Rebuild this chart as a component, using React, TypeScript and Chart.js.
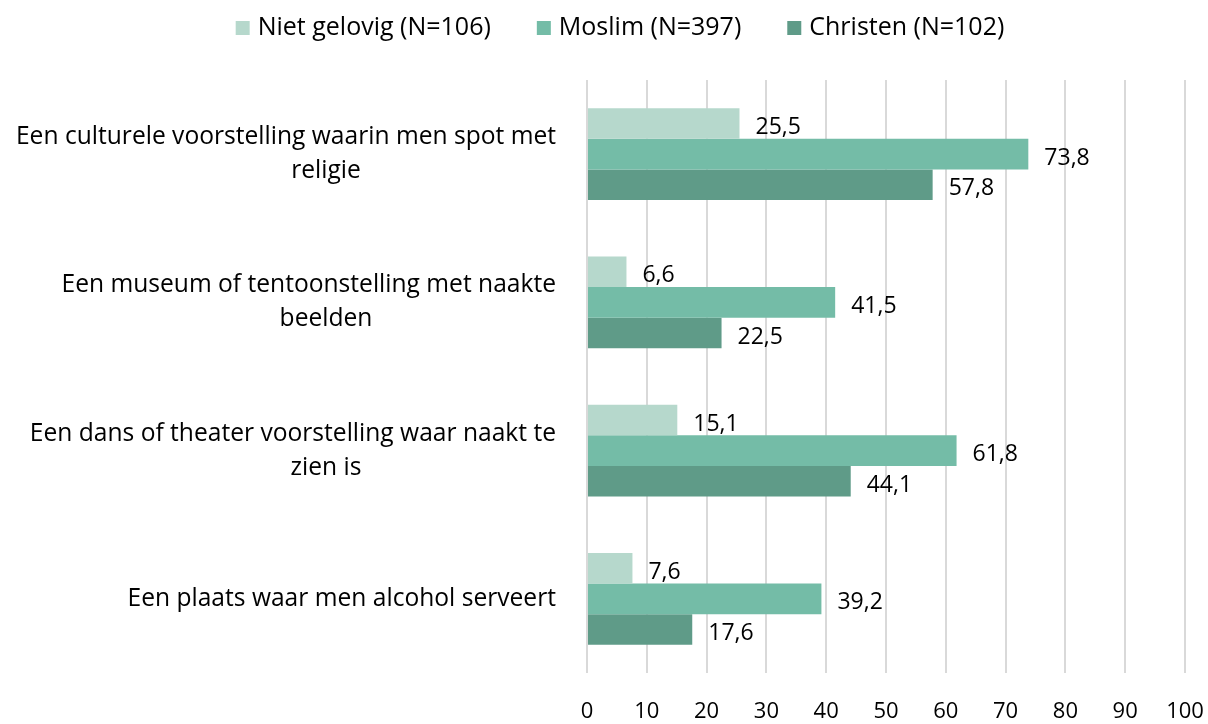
import React, { useEffect, useRef } from "react";
import { Chart, registerables } from "chart.js";

Chart.register(...registerables);

const categories: string[][] = [
  ["Een culturele voorstelling waarin men spot met", "religie"],
  ["Een museum of tentoonstelling met naakte", "beelden"],
  ["Een dans of theater voorstelling waar naakt te", "zien is"],
  ["Een plaats waar men alcohol serveert"],
];
const seriesLabels = ["Niet gelovig (N=106)", "Moslim (N=397)", "Christen (N=102)"];
const nietGelovig = [25.5, 6.6, 15.1, 7.6];
const moslim = [73.8, 41.5, 61.8, 39.2];
const christen = [57.8, 22.5, 44.1, 17.6];
const seriesColors = ["#b6d8cc", "#74bca7", "#5f9b88"];
const xMin = 0;
const xMax = 100;
const xStep = 10;

const FONT = "'Open Sans', 'Noto Sans', sans-serif";
const FS_CAT = 24.6;
const FS_LEGEND = 25;
const FS_VALUE = 23;
const FS_TICK = 22;

const fmt = (v: number) => v.toFixed(1).replace(".", ",");

const customLegend = {
  id: "customLegend",
  afterDraw(chart: any) {
    const ctx = chart.ctx;
    ctx.save();
    ctx.font = `${FS_LEGEND}px ${FONT}`;
    ctx.textBaseline = "middle";
    ctx.textAlign = "left";
    const box = 14;
    const gapBoxText = 8;
    const gapItems = 46;
    const items = chart.data.datasets.map((ds: any) => ({
      label: ds.label,
      color: ds.backgroundColor,
      w: ctx.measureText(ds.label).width,
    }));
    const total = items.reduce((s: number, it: any) => s + box + gapBoxText + it.w, 0) + gapItems * (items.length - 1);
    let x = 620 - total / 2;
    const y = 28;
    items.forEach((it: any) => {
      ctx.fillStyle = it.color;
      ctx.fillRect(x, y - box / 2, box, box);
      x += box + gapBoxText;
      ctx.fillStyle = "#000";
      ctx.fillText(it.label, x, y);
      x += it.w + gapItems;
    });
    ctx.restore();
  },
};

const categoryLabels = {
  id: "categoryLabels",
  afterDraw(chart: any) {
    const ctx = chart.ctx;
    const yScale = chart.scales.y;
    const left = chart.chartArea.left;
    ctx.save();
    ctx.font = `${FS_CAT}px ${FONT}`;
    ctx.fillStyle = "#000";
    ctx.textBaseline = "middle";
    const lh = 34;
    categories.forEach((lines, i) => {
      const cy = yScale.getPixelForValue(i);
      lines.forEach((line, j) => {
        const y = cy + (j - (lines.length - 1) / 2) * lh;
        if (j === 0) {
          ctx.textAlign = "right";
          ctx.fillText(line, left - 31, y);
        } else {
          ctx.textAlign = "center";
          ctx.fillText(line, left - 261, y);
        }
      });
    });
    ctx.restore();
  },
};

const valueLabels = {
  id: "valueLabels",
  afterDatasetsDraw(chart: any) {
    const ctx = chart.ctx;
    ctx.save();
    ctx.font = `${FS_VALUE}px ${FONT}`;
    ctx.fillStyle = "#000";
    ctx.textAlign = "left";
    ctx.textBaseline = "middle";
    chart.data.datasets.forEach((ds: any, di: number) => {
      const meta = chart.getDatasetMeta(di);
      meta.data.forEach((bar: any, i: number) => {
        ctx.fillText(fmt(ds.data[i]), bar.x + 16, bar.y + 4);
      });
    });
    ctx.restore();
  },
};

export default function App() {
  const ref = useRef<HTMLCanvasElement | null>(null);
  useEffect(() => {
    if (!ref.current) return;
    const chart = new Chart(ref.current, {
      type: "bar",
      data: {
        labels: categories.map((c) => c.join(" ")),
        datasets: [nietGelovig, moslim, christen].map((d, i) => ({
          label: seriesLabels[i],
          data: d,
          backgroundColor: seriesColors[i],
          borderWidth: 0,
          categoryPercentage: 0.62,
          barPercentage: 1,
        })),
      },
      options: {
        indexAxis: "y",
        responsive: false,
        animation: false,
        layout: { padding: { top: 80, right: 23, left: 0, bottom: 0 } },
        plugins: {
          legend: { display: false },
          tooltip: { enabled: false },
        },
        scales: {
          x: {
            min: xMin,
            max: xMax,
            ticks: {
              stepSize: xStep,
              color: "#000",
              font: { family: FONT, size: FS_TICK },
              padding: 0,
              maxRotation: 0,
            },
            grid: {
              color: "#d9d9d9",
              lineWidth: 2,
              drawTicks: true,
              tickLength: 26,
              tickColor: "rgba(0,0,0,0)",
            },
            border: { display: false },
            afterFit: (s: any) => {
              s.height = 51;
            },
          },
          y: {
            ticks: { display: false },
            grid: { display: false },
            border: { display: false },
            afterFit: (s: any) => {
              s.width = 587;
            },
          },
        },
      } as any,
      plugins: [customLegend, categoryLabels, valueLabels],
    });
    return () => chart.destroy();
  }, []);
  return (
    <div style={{ position: "fixed", left: 0, top: 0, width: 1208, height: 724, background: "#fff" }}>
      <canvas ref={ref} width={1208} height={724} style={{ display: "block" }} />
    </div>
  );
}
